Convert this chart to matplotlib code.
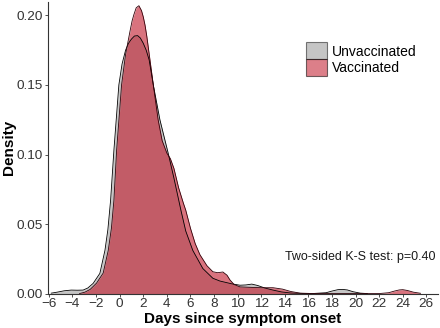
import numpy as np
import matplotlib.pyplot as plt
from matplotlib.patches import Patch

plt.rcParams['font.family'] = ['Liberation Sans', 'DejaVu Sans']

# density curves (days since onset, density)
unvax_days = [-5.8, -5.3, -4.7, -4.1, -3.6, -3.1, -2.7, -2.25, -1.68, -1.25, -1.0,
              -0.77, -0.49, -0.07, 0.2, 0.5, 0.75, 1.0, 1.25, 1.52, 1.75, 2.0, 2.25,
              2.5, 2.85, 3.41, 4.11, 4.6, 5.19, 5.6, 6.2, 7.05, 7.9, 8.5, 9.5, 10.2,
              10.7, 11.2, 11.7, 12.3, 13.0, 13.7, 14.5, 15.5, 16.5, 17.5, 18.0, 18.5,
              18.9, 19.3, 19.8, 20.4, 21.0]
unvax_dens = [0.0003, 0.0010, 0.0020, 0.0025, 0.0024, 0.0025, 0.0040, 0.0073, 0.0145,
              0.031, 0.046, 0.067, 0.103, 0.150, 0.165, 0.175, 0.180, 0.183, 0.1852,
              0.1855, 0.1838, 0.180, 0.175, 0.168, 0.150, 0.125, 0.101, 0.083, 0.060,
              0.045, 0.031, 0.018, 0.011, 0.009, 0.007, 0.006, 0.0062, 0.0068, 0.0058,
              0.004, 0.0025, 0.0012, 0.0004, 0.0001, 0.0001, 0.0006, 0.0018, 0.0028,
              0.0030, 0.0026, 0.0013, 0.0003, 0.0]

vax_days = [-3.4, -2.95, -2.5, -1.96, -1.4, -0.97, -0.7, -0.49, -0.26, 0.16, 0.5, 0.86,
            1.05, 1.2, 1.4, 1.63, 1.85, 2.0, 2.15, 2.3, 2.6, 2.9, 3.26, 3.6, 4.0, 4.3,
            4.6, 5.0, 5.4, 5.6, 6.0, 6.4, 6.8, 7.4, 7.9, 8.3, 8.75, 9.1, 9.35, 9.7,
            10.2, 11.0, 12.0, 13.0, 13.8, 14.5, 15.3, 16.5, 22.0, 22.8, 23.3, 23.7,
            24.0, 24.4, 24.9, 25.5]
vax_dens = [0.0, 0.001, 0.003, 0.0075, 0.0147, 0.031, 0.047, 0.067, 0.103, 0.150, 0.172,
            0.188, 0.196, 0.2005, 0.2055, 0.207, 0.2035, 0.199, 0.193, 0.185, 0.166,
            0.147, 0.125, 0.110, 0.101, 0.097, 0.090, 0.076, 0.065, 0.060, 0.047,
            0.036, 0.028, 0.020, 0.0157, 0.0150, 0.0155, 0.0132, 0.0098, 0.0065,
            0.0048, 0.0045, 0.0042, 0.0042, 0.0032, 0.0015, 0.0003, 0.0, 0.0, 0.0006,
            0.0018, 0.0026, 0.0028, 0.0022, 0.0010, 0.0002]

groups = ["Unvaccinated", "Vaccinated"]
x_ticks = np.arange(-6, 27, 2)
y_ticks = [0.0, 0.05, 0.10, 0.15, 0.20]

grey_col = '#8c8c8c'
red_col = '#c01628'

fig = plt.figure(figsize=(4.4, 3.28), dpi=100)
ax = fig.add_axes([0.109, 0.105, 0.886, 0.889])

ax.fill_between(unvax_days, unvax_dens, color=grey_col, alpha=0.5, lw=0)
ax.plot(unvax_days, unvax_dens, color='black', lw=0.6)
ax.fill_between(vax_days, vax_dens, color=red_col, alpha=0.6, lw=0)
ax.plot(vax_days, vax_dens, color='#300008', lw=0.6)

ax.set_xlim(-6.08, 26.97)
ax.set_ylim(0, 0.2097)
ax.set_xticks(x_ticks)
ax.set_yticks(y_ticks)
ax.set_yticklabels([f"{v:.2f}" for v in y_ticks])
ax.tick_params(labelsize=9.7, labelcolor='#333333', color='#333333', length=2.5, width=0.6, pad=1)
for s in ['top', 'right']:
    ax.spines[s].set_visible(False)
for s in ['left', 'bottom']:
    ax.spines[s].set_linewidth(0.8)
    ax.spines[s].set_color('#333333')

ax.set_xlabel("Days since symptom onset", fontsize=11, fontweight='bold', labelpad=1)
ax.set_ylabel("Density", fontsize=11, fontweight='bold')
ax.yaxis.set_label_coords(-0.082, 0.5)

handles = [Patch(facecolor=grey_col, alpha=0.5, edgecolor='black', lw=0.8),
           Patch(facecolor=red_col, alpha=0.55, edgecolor='black', lw=0.8)]
leg = ax.legend(handles, groups, loc='upper left', bbox_to_anchor=(0.645, 0.885),
                frameon=False, fontsize=10, handlelength=1.5, handleheight=1.5,
                labelspacing=0.0, handletextpad=0.35, borderpad=0)

ax.text(0.995, 0.125, "Two-sided K-S test: p=0.40", transform=ax.transAxes,
        ha='right', va='center', fontsize=9, color='#1a1a1a')

fig.savefig("out.png", dpi=100)
